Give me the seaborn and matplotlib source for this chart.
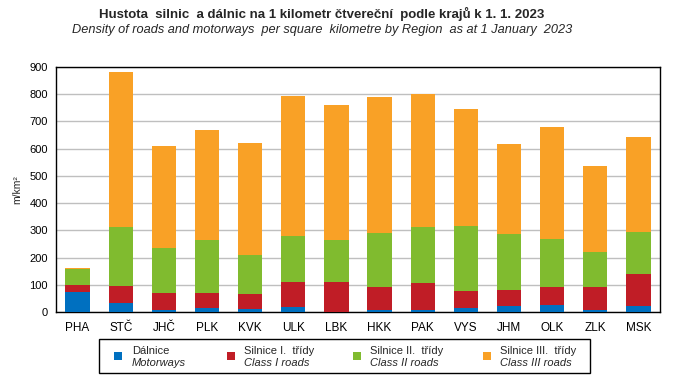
"""Stacked bar chart: road density by region (Czechia, 1 Jan 2023)"""

import matplotlib

matplotlib.use("Agg")
import matplotlib.pyplot as plt
import numpy as np
import pandas as pd
import seaborn as sns
from matplotlib.patches import Rectangle

regions = ["PHA", "STČ", "JHČ", "PLK", "KVK", "ULK", "LBK",
           "HKK", "PAK", "VYS", "JHM", "OLK", "ZLK", "MSK"]

motorways = [75, 33, 9, 16, 11, 18, 1, 9, 9, 16, 23, 26, 9, 23]
class_1 = [25, 64, 61, 54, 56, 92, 109, 83, 98, 61, 58, 66, 83, 117]
class_2 = [58, 215, 165, 195, 142, 170, 155, 198, 205, 239, 206, 176, 129, 154]
class_3 = [4, 570, 375, 404, 412, 514, 495, 500, 489, 430, 330, 412, 315, 349]

series_cz = ["Dálnice", "Silnice I.  třídy", "Silnice II.  třídy", "Silnice III.  třídy"]
series_en = ["Motorways", "Class I roads", "Class II roads", "Class III roads"]
colors = ["#0070C0", "#C01D26", "#80BB2F", "#F9A126"]

sns.set_style("white")
plt.rcParams["font.family"] = ["Liberation Sans", "DejaVu Sans"]

W, H = 676, 381
df = pd.DataFrame({"region": regions})
stack = np.cumsum(np.array([motorways, class_1, class_2, class_3]), axis=0)

fig = plt.figure(figsize=(W / 100, H / 100), dpi=100)
ax = fig.add_axes([56 / W, 1 - 312 / H, 604 / W, 245 / H])

# draw from the tallest cumulative layer down so lower layers sit on top
for i in range(3, -1, -1):
    df["val"] = stack[i]
    sns.barplot(data=df, x="region", y="val", color=colors[i], saturation=1,
                width=0.56, linewidth=0, ax=ax, zorder=3)

ax.set_xlim(-0.5, 13.5)
ax.set_ylim(0, 900)
ax.set_yticks(range(0, 901, 100))
ax.yaxis.grid(True, color="#BFBFBF", linewidth=1)
ax.set_axisbelow(True)
ax.set_xlabel("")
ax.set_ylabel("m/km²", fontsize=7.5, labelpad=5)

ax.set_xticks(np.arange(-0.5, 14, 1), minor=True)
ax.tick_params(axis="x", which="major", length=0, labelsize=8.5, pad=7)
ax.tick_params(axis="x", which="minor", length=4, width=1, direction="out")
ax.tick_params(axis="y", length=4, width=1, direction="out", labelsize=8, pad=2)
ax.tick_params(axis="both", colors="black")

for sp in ax.spines.values():
    sp.set_visible(True)
    sp.set_color("black")
    sp.set_linewidth(1)

fig.text(322 / W, 1 - 14 / H, "Hustota  silnic  a dálnic na 1 kilometr čtvereční  podle krajů k 1. 1. 2023",
         ha="center", va="center", fontsize=9.5, fontweight="bold")
fig.text(322 / W, 1 - 30 / H,
         "Density of roads and motorways  per square  kilometre by Region  as at 1 January  2023",
         ha="center", va="center", fontsize=9.2, style="italic")

# legend box drawn by hand: two-line labels (Czech regular, English italic)
fig.patches.append(Rectangle((99 / W, 1 - 373 / H), 491 / W, 34 / H, transform=fig.transFigure,
                             facecolor="white", edgecolor="black", linewidth=1))
marker_x = [118, 231, 357, 487]
text_x = [132, 244, 370, 500]
for mx, tx, c, cz, en in zip(marker_x, text_x, colors, series_cz, series_en):
    fig.patches.append(Rectangle(((mx - 3.7) / W, 1 - 359.5 / H), 7.4 / W, 7.4 / H,
                                 transform=fig.transFigure, facecolor=c, edgecolor="none"))
    fig.text(tx / W, 1 - 350.5 / H, cz, ha="left", va="center", fontsize=8)
    fig.text(tx / W, 1 - 362.5 / H, en, ha="left", va="center", fontsize=8, style="italic")

fig.savefig("out.png", dpi=100)
